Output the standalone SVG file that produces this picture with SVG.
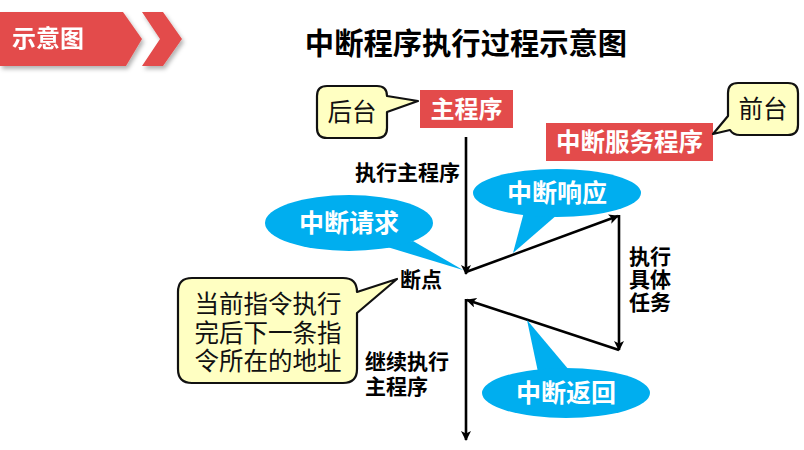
<svg xmlns="http://www.w3.org/2000/svg" width="804" height="450" viewBox="0 0 804 450">
<defs>
<style>
text{font-family:"Liberation Sans","Noto Sans CJK SC",sans-serif;}
.bold{font-weight:bold;}
.red{fill:#E34B4B;}
.wt{fill:#fff;font-weight:bold;}
.bk{fill:#000;font-weight:bold;font-size:21px;}
.blue{fill:#00AEEF;}
.yel{fill:#FFFFC2;stroke:#111;stroke-width:2.2;stroke-linejoin:round;}
.note{fill:#111;font-size:24.5px;}
.ln{stroke:#000;stroke-width:2.6;fill:none;marker-end:url(#ah);}
</style>
<marker id="ah" viewBox="0 0 10 10" refX="9" refY="5" markerWidth="11" markerHeight="10" markerUnits="userSpaceOnUse" orient="auto">
<path d="M0,0 L10,5 L0,10 L2.5,5 Z" fill="#000"/>
</marker>
<filter id="sh" x="-10%" y="-10%" width="130%" height="140%">
<feDropShadow dx="2" dy="3" stdDeviation="2" flood-color="#000" flood-opacity="0.3"/>
</filter>
</defs>

<g id="header" filter="url(#sh)">
<polygon class="red" points="0,12 123,12 142,39 126,66 0,66"/>
<polygon class="red" points="142,12 163,12 182,39 163,66 142,66 160,39"/>
<text x="12" y="47" class="wt" font-size="24">示意图</text>
</g>

<text id="title" x="466" y="54" text-anchor="middle" class="bold" font-size="29.3" fill="#000">中断程序执行过程示意图</text>

<g id="connectors">
<line class="ln" x1="466" y1="137" x2="466" y2="274"/>
<line class="ln" x1="466" y1="272" x2="618" y2="216"/>
<line class="ln" x1="619" y1="215" x2="619" y2="350"/>
<line class="ln" x1="619" y1="350" x2="467" y2="300"/>
<line class="ln" x1="466" y1="299" x2="466" y2="440"/>
</g>

<g id="node-main">
<rect class="red" x="420" y="90" width="93" height="38"/>
<text x="466.5" y="118" text-anchor="middle" class="wt" font-size="24">主程序</text>
</g>

<g id="node-isr">
<rect class="red" x="546" y="123" width="167" height="38"/>
<text x="629.5" y="151" text-anchor="middle" class="wt" font-size="24.5">中断服务程序</text>
</g>

<g id="note-back">
<path class="yel" d="M327,86 H377 Q387,86 387,96 L418,101 L387,112 V128 Q387,138 377,138 H327 Q317,138 317,128 V96 Q317,86 327,86 Z"/>
<text x="352" y="121" text-anchor="middle" class="note">后台</text>
</g>

<g id="note-front">
<path class="yel" d="M738,83 H788 Q798,83 798,93 V125 Q798,135 788,135 H740 Q733,135 730,130 L713,134 L728,116 V93 Q728,83 738,83 Z"/>
<text x="763" y="118" text-anchor="middle" class="note">前台</text>
</g>

<g id="note-addr">
<path class="yel" d="M192,278 H343 Q357,278 357,292 L397,279 L357,313 V369 Q357,383 343,383 H192 Q178,383 178,369 V292 Q178,278 192,278 Z"/>
<text x="268" y="313" text-anchor="middle" class="note">当前指令执行</text>
<text x="268" y="342" text-anchor="middle" class="note">完后下一条指</text>
<text x="268" y="370" text-anchor="middle" class="note">令所在的地址</text>
</g>

<g id="bubble-request">
<polygon class="blue" points="384,246 463,270 413,241"/>
<ellipse class="blue" cx="349" cy="223" rx="84" ry="28"/>
<text x="349" y="232" text-anchor="middle" class="wt" font-size="25">中断请求</text>
</g>

<g id="bubble-response">
<polygon class="blue" points="524,212 513,253 558,214"/>
<ellipse class="blue" cx="557" cy="193" rx="84" ry="24"/>
<text x="557" y="202" text-anchor="middle" class="wt" font-size="25">中断响应</text>
</g>

<g id="bubble-return">
<polygon class="blue" points="538,372 527,320 569,370"/>
<ellipse class="blue" cx="566" cy="393" rx="84" ry="25"/>
<text x="566" y="402" text-anchor="middle" class="wt" font-size="25">中断返回</text>
</g>

<g id="labels">
<text x="460" y="180" text-anchor="end" class="bk">执行主程序</text>
<text x="400" y="287" class="bk" font-size="20">断点</text>
<text x="365" y="369" class="bk">继续执行</text>
<text x="365" y="394" class="bk">主程序</text>
<text x="629" y="264" class="bk">执行</text>
<text x="629" y="287" class="bk">具体</text>
<text x="629" y="310" class="bk">任务</text>
</g>
</svg>
